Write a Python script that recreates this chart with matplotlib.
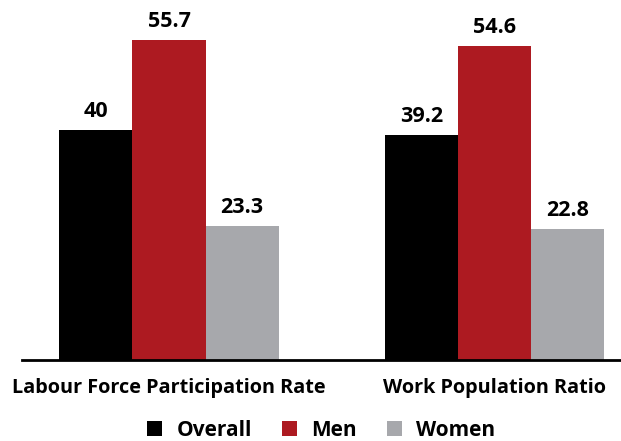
import numpy as np
import matplotlib.pyplot as plt
from matplotlib.patches import Patch

categories = ["Labour Force Participation Rate", "Work Population Ratio"]
series = ["Overall", "Men", "Women"]
overall = [40, 39.2]
men = [55.7, 54.6]
women = [23.3, 22.8]
colors = ["#000000", "#AD1A21", "#A7A8AC"]

plt.rcParams['font.family'] = ['Open Sans', 'DejaVu Sans']
plt.rcParams['font.weight'] = 'bold'

fig = plt.figure(figsize=(6.21, 4.41), dpi=100)
ax = fig.add_axes([22 / 621, 81 / 441, 599 / 621, 360 / 441])

x = np.arange(len(categories))
w = 0.2243
for i, (vals, c) in enumerate(zip([overall, men, women], colors)):
    pos = x + (i - 1) * w
    ax.bar(pos, vals, width=w, color=c, linewidth=0)
    for p, v in zip(pos, vals):
        ax.annotate(f"{v:g}", (p, v), xytext=(0, 5.5), textcoords="offset points",
                    ha="center", va="bottom", fontsize=15.5, fontweight="bold")

ax.set_xlim(-0.4516, 1.3886)
ax.set_ylim(0, 62.6)
for s in ["top", "right", "left"]:
    ax.spines[s].set_visible(False)
ax.spines["bottom"].set_linewidth(2)
ax.set_yticks([])
ax.set_xticks(x)
ax.set_xticklabels(categories, fontsize=14.3, fontweight="bold")
ax.tick_params(axis="x", length=0, pad=13)

handles = [Patch(facecolor=c, edgecolor="none") for c in colors]
fig.legend(handles, series, loc="center", bbox_to_anchor=(0.517, 0.024), ncol=3,
           frameon=False, handlelength=0.72, handleheight=0.72,
           handletextpad=0.67, columnspacing=1.45, borderpad=0,
           prop={"weight": "bold", "size": 15})

fig.savefig("out.png", dpi=100)
